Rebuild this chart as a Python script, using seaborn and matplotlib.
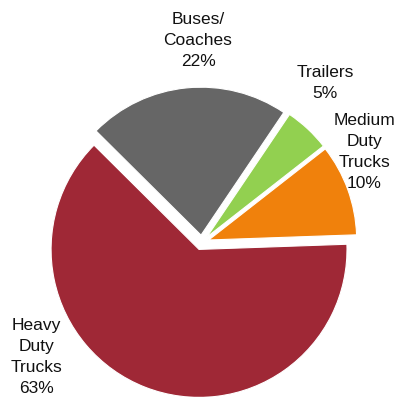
import matplotlib
matplotlib.use("Agg")
import matplotlib.pyplot as plt
import seaborn as sns
import pandas as pd

# Vehicle segment shares (percent), drawn clockwise from the upper left
segments = ["Buses/\nCoaches", "Trailers", "Medium\nDuty\nTrucks", "Heavy\nDuty\nTrucks"]
shares = [22, 5, 10, 63]
colors = ["#666666", "#92D050", "#F0810C", "#9F2836"]

# Label anchor points in data units (pie radius = 1)
label_x = [-0.025, 0.835, 1.10, -1.12]
label_y = [1.365, 1.075, 0.61, -0.775]

df = pd.DataFrame({"segment": segments, "share": shares, "color": colors,
                   "lx": label_x, "ly": label_y})

sns.set_theme(style="white")
plt.rcParams["font.family"] = ["Liberation Sans", "DejaVu Sans"]

fig = plt.figure(figsize=(3.98, 3.97), dpi=100)
ax = fig.add_axes([0, 0, 1, 1])

ax.pie(df["share"], colors=df["color"], startangle=135.2, counterclock=False,
       explode=[0.05] * len(df), radius=1.0,
       wedgeprops=dict(linewidth=0.8, edgecolor="white"))

for _, row in df.iterrows():
    ax.text(row["lx"], row["ly"], f"{row['segment']}\n{row['share']}%",
            ha="center", va="center", fontsize=12.5, color="#111111",
            linespacing=1.5)

ax.set_xlim(-1.363, 1.326)
ax.set_ylim(-1.044, 1.639)
ax.set_aspect("equal", adjustable="box")
ax.axis("off")

fig.savefig("out.png", dpi=100, facecolor="white")
